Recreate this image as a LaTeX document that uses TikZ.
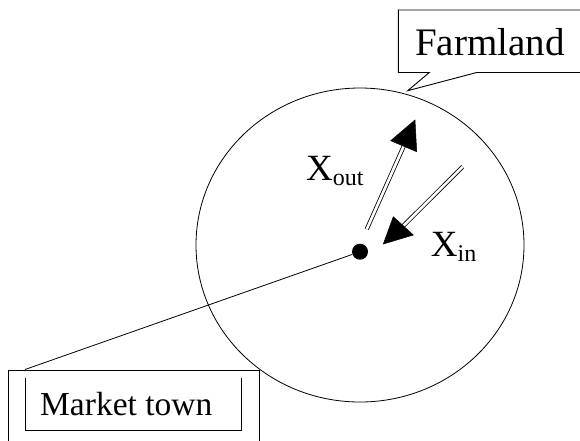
\documentclass[tikz,border=0pt]{standalone}
\usepackage{fontspec}
\setmainfont{Liberation Serif}
\usetikzlibrary{calc,shapes.geometric}
\begin{document}
\begin{tikzpicture}[x=1pt,y=-1pt,
  boxline/.style={draw=black,line width=0.9pt},
  thinline/.style={draw=black,line width=0.8pt},
  dbl/.style={draw=black,double=white,double distance=2.6pt,line width=0.8pt},
  headfill/.style={fill=black,draw=black,line width=0.5pt,line join=miter},
  lbl/.style={inner sep=0pt,anchor=base west}]
\useasboundingbox (0,0) rectangle (580,440);
\clip (0,0) rectangle (580,440);
\fill[white] (0,0) rectangle (580,440);
% farmland circle
\node[thinline,ellipse,minimum width=328pt,minimum height=314pt,inner sep=0pt] (area) at (360,245) {};
% market town dot
\node[circle,fill=black,inner sep=0pt,minimum size=16pt] (dot) at (360,251.7) {};
% Farmland callout
\draw[boxline] (398.3,10) -- (600,10) -- (600,72.5) -- (476.7,72.5) -- (407.7,90.7) -- (429.3,72.5) -- (398.3,72.5) -- cycle;
\node[lbl,font=\fontsize{39}{40}\selectfont] (farmlabel) at (415,55) {Farmland};
% Market town callout
\draw[boxline] (8.3,370) rectangle (259,460);
\draw[thinline] (25,378) -- (25,430.7) -- (241,430.7) -- (241,378);
\node[lbl,font=\fontsize{33.5}{36}\selectfont] (mtlabel) at (40,415) {Market town};
\coordinate (mtc) at (25,369.5);
\draw[thinline] (dot) -- (mtc);
% flows
\coordinate (outS) at (366.7,229.3);
\coordinate (outT) at (415,120);
\coordinate (outA) at (390.7,140.7);
\coordinate (outB) at (416.7,151.7);
\coordinate (inS) at (462.7,166.7);
\coordinate (inT) at (383.3,244);
\coordinate (inA) at (393.3,216.7);
\coordinate (inB) at (413.3,235);
\draw[dbl] (outS) -- ($(outA)!0.5!(outB)$);
\filldraw[headfill] (outT) -- (outA) -- (outB) -- cycle;
\draw[dbl] (inS) -- ($(inA)!0.5!(inB)$);
\filldraw[headfill] (inT) -- (inA) -- (inB) -- cycle;
% labels
\node[lbl] (xout) at (306,180) {\fontsize{37}{40}\selectfont X\raisebox{-5pt}{\fontsize{24}{26}\selectfont out}};
\node[lbl] (xin) at (430.7,256.7) {\fontsize{37}{40}\selectfont X\raisebox{-5pt}{\fontsize{24}{26}\selectfont in}};
\end{tikzpicture}
\end{document}
